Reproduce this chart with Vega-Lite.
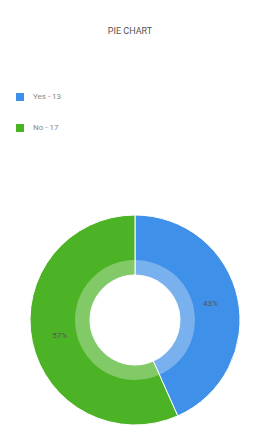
{
  "$schema": "https://vega.github.io/schema/vega-lite/v6.json",
  "autosize": {"type": "none"},
  "width": 210,
  "height": 210,
  "padding": {"left": 30, "top": 215, "right": 16, "bottom": 3},
  "background": "white",
  "config": {"view": {"stroke": null}, "font": "Roboto"},
  "title": {"text": "PIE CHART", "fontSize": 9, "fontWeight": "normal", "color": "#555555", "anchor": "middle", "offset": 57, "dx": -5},
  "data": {"values": [
    {"answer": "Yes - 13", "count": 13, "pct": "43%"},
    {"answer": "No - 17", "count": 17, "pct": "57%"}
  ]},
  "encoding": {
    "theta": {"field": "count", "type": "quantitative", "stack": true},
    "order": {"field": "answer", "sort": "descending"}
  },
  "layer": [
    {
      "mark": {"type": "arc", "outerRadius": 105, "innerRadius": 45, "stroke": "white", "strokeWidth": 1},
      "encoding": {
        "color": {
          "field": "answer", "type": "nominal",
          "scale": {"domain": ["Yes - 13", "No - 17"], "range": ["#3f90e8", "#4db326"]},
          "legend": {"orient": "none", "legendX": -14, "legendY": -122, "title": null, "symbolType": "square", "symbolSize": 64, "symbolStrokeWidth": 0, "labelFontSize": 8, "labelColor": "#888888", "rowPadding": 23, "labelOffset": 9}
        }
      }
    },
    {
      "mark": {"type": "arc", "outerRadius": 60, "innerRadius": 45, "color": "white", "opacity": 0.3},
      "encoding": {}
    },
    {
      "mark": {"type": "text", "radius": 77, "fontSize": 8, "color": "#555555"},
      "encoding": {"text": {"field": "pct"}}
    }
  ]
}
